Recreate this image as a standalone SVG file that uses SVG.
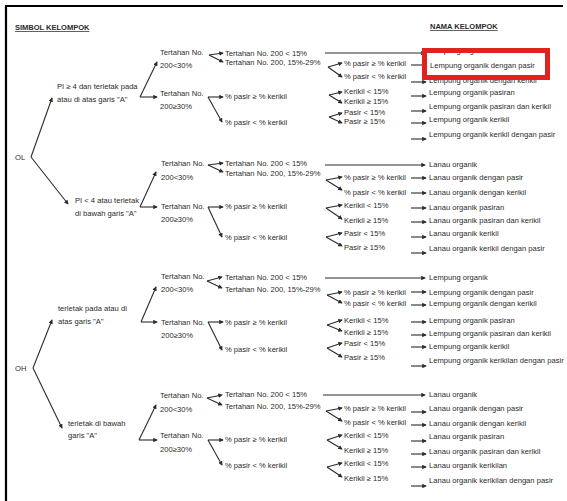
<svg xmlns="http://www.w3.org/2000/svg" width="567" height="501" viewBox="0 0 567 501">
<defs>
<marker id="ah" viewBox="0 0 6 6" refX="5" refY="3" markerWidth="4.5" markerHeight="4.5" markerUnits="userSpaceOnUse" orient="auto">
<path d="M0,0 L6,3 L0,6 z" fill="#2b2b2b"/>
</marker>
<style>
.t{font-family:"Liberation Sans",Arial,sans-serif;font-size:7.6px;fill:#2b2b2b}
.h{font-family:"Liberation Sans",Arial,sans-serif;font-size:7.5px;font-weight:bold;fill:#2b2b2b;text-decoration:underline}
.c line,.c path{stroke:#2b2b2b;stroke-width:1.1;fill:none;marker-end:url(#ah)}
</style>
</defs>
<rect width="567" height="501" fill="#ffffff"/>
<g id="frame" stroke="#000" stroke-width="2.2">
<line x1="5" y1="6" x2="563" y2="6"/>
<line x1="6" y1="5" x2="6" y2="501"/>
</g>
<g id="titles">
<text class="h" x="15" y="30">SIMBOL KELOMPOK</text>
<text class="h" x="430" y="29">NAMA KELOMPOK</text>
</g>

<g class="c" id="connectors">
<line x1="31" y1="157" x2="52" y2="98"/>
<line x1="31" y1="157" x2="68" y2="204"/>
<line x1="33" y1="368" x2="52" y2="320"/>
<line x1="33" y1="368" x2="62" y2="428"/>
<line x1="140" y1="97" x2="157" y2="62"/>
<line x1="140" y1="97" x2="157" y2="97"/>
<line x1="209" y1="55" x2="223" y2="53"/>
<line x1="209" y1="55" x2="223" y2="62"/>
<line x1="208" y1="97" x2="223" y2="97"/>
<line x1="208" y1="97" x2="222" y2="122"/>
<line x1="325" y1="53" x2="425" y2="53"/>
<line x1="328" y1="67" x2="342" y2="63"/>
<line x1="328" y1="67" x2="342" y2="77"/>
<line x1="329" y1="95" x2="342" y2="92"/>
<line x1="329" y1="95" x2="342" y2="103"/>
<line x1="329" y1="117" x2="342" y2="113"/>
<line x1="329" y1="117" x2="342" y2="123"/>
<line x1="411" y1="65" x2="426" y2="65"/>
<line x1="411" y1="82" x2="426" y2="82"/>
<line x1="411" y1="96" x2="426" y2="96"/>
<line x1="411" y1="111" x2="426" y2="111"/>
<line x1="411" y1="123" x2="426" y2="123"/>
<line x1="411" y1="139" x2="426" y2="139"/>
<line x1="140" y1="207" x2="156" y2="172"/>
<line x1="140" y1="207" x2="157" y2="207"/>
<line x1="208" y1="165" x2="223" y2="163"/>
<line x1="208" y1="165" x2="223" y2="172"/>
<line x1="208" y1="207" x2="223" y2="207"/>
<line x1="208" y1="207" x2="222" y2="237"/>
<line x1="325" y1="165" x2="425" y2="165"/>
<line x1="326" y1="180" x2="342" y2="177"/>
<line x1="326" y1="180" x2="342" y2="190"/>
<line x1="326" y1="208" x2="342" y2="205"/>
<line x1="326" y1="208" x2="342" y2="219"/>
<line x1="326" y1="237" x2="342" y2="233"/>
<line x1="326" y1="237" x2="342" y2="246"/>
<line x1="411" y1="178" x2="426" y2="178"/>
<line x1="411" y1="193" x2="426" y2="193"/>
<line x1="411" y1="208" x2="426" y2="208"/>
<line x1="411" y1="222" x2="426" y2="222"/>
<line x1="411" y1="237" x2="426" y2="237"/>
<line x1="411" y1="253" x2="426" y2="253"/>
<line x1="141" y1="322" x2="156" y2="287"/>
<line x1="141" y1="322" x2="157" y2="322"/>
<line x1="207" y1="281" x2="222" y2="277"/>
<line x1="207" y1="281" x2="222" y2="288"/>
<line x1="208" y1="322" x2="223" y2="322"/>
<line x1="208" y1="322" x2="222" y2="350"/>
<line x1="325" y1="278" x2="425" y2="278"/>
<line x1="327" y1="295" x2="342" y2="292"/>
<line x1="327" y1="295" x2="342" y2="303"/>
<line x1="327" y1="325" x2="342" y2="320"/>
<line x1="327" y1="325" x2="342" y2="331"/>
<line x1="327" y1="348" x2="342" y2="343"/>
<line x1="327" y1="348" x2="342" y2="357"/>
<line x1="411" y1="292" x2="426" y2="292"/>
<line x1="411" y1="305" x2="426" y2="305"/>
<line x1="411" y1="322" x2="426" y2="322"/>
<line x1="411" y1="335" x2="426" y2="335"/>
<line x1="411" y1="347" x2="426" y2="347"/>
<line x1="411" y1="366" x2="426" y2="366"/>
<line x1="139" y1="440" x2="156" y2="405"/>
<line x1="139" y1="440" x2="157" y2="440"/>
<line x1="207" y1="398" x2="222" y2="395"/>
<line x1="207" y1="398" x2="222" y2="405"/>
<line x1="208" y1="440" x2="223" y2="440"/>
<line x1="208" y1="440" x2="222" y2="465"/>
<line x1="323" y1="395" x2="425" y2="395"/>
<line x1="326" y1="411" x2="342" y2="408"/>
<line x1="326" y1="411" x2="342" y2="421"/>
<line x1="327" y1="440" x2="342" y2="435"/>
<line x1="327" y1="440" x2="342" y2="449"/>
<line x1="327" y1="467" x2="342" y2="463"/>
<line x1="327" y1="467" x2="342" y2="477"/>
<line x1="411" y1="412" x2="426" y2="412"/>
<line x1="411" y1="425" x2="426" y2="425"/>
<line x1="411" y1="441" x2="426" y2="441"/>
<line x1="411" y1="454" x2="426" y2="454"/>
<line x1="411" y1="467" x2="426" y2="467"/>
<line x1="411" y1="486" x2="426" y2="486"/>
</g>

<g id="node-OL"><text class="t" x="15" y="160">OL</text></g>
<g id="node-OH"><text class="t" x="15" y="371">OH</text></g>

<g id="node-s1-cond"><text class="t" x="57" y="89">PI ≥ 4 dan terletak pada</text><text class="t" x="57" y="102">atau di atas garis "A"</text></g>
<g id="node-s1-a"><text class="t" x="160" y="55">Tertahan No.</text><text class="t" x="160" y="68">200&lt;30%</text></g>
<g id="node-s1-b"><text class="t" x="160" y="96">Tertahan No.</text><text class="t" x="160" y="109">200≥30%</text></g>
<g id="node-s1-a1"><text class="t" x="225" y="56">Tertahan No. 200 &lt; 15%</text></g>
<g id="node-s1-a2"><text class="t" x="225" y="65">Tertahan No. 200, 15%-29%</text></g>
<g id="node-s1-b1"><text class="t" x="225" y="99">% pasir ≥ % kerikil</text></g>
<g id="node-s1-b2"><text class="t" x="225" y="125">% pasir &lt; % kerikil</text></g>
<g id="node-s1-c1"><text class="t" x="344" y="66">% pasir ≥ % kerikil</text></g>
<g id="node-s1-c2"><text class="t" x="344" y="79">% pasir &lt; % kerikil</text></g>
<g id="node-s1-c3"><text class="t" x="344" y="94">Kerikil &lt; 15%</text></g>
<g id="node-s1-c4"><text class="t" x="344" y="104">Kerikil ≥ 15%</text></g>
<g id="node-s1-c5"><text class="t" x="344" y="115">Pasir &lt; 15%</text></g>
<g id="node-s1-c6"><text class="t" x="344" y="124">Pasir ≥ 15%</text></g>
<g id="node-s1-r1"><text class="t" x="429" y="53">Lempung organik</text></g>
<g id="node-s1-r2"><text class="t" x="430" y="68">Lempung organik dengan pasir</text></g>
<g id="node-s1-r3"><text class="t" x="429" y="82.5">Lempung organik dengan kerikil</text></g>
<g id="node-s1-r4"><text class="t" x="429" y="95">Lempung organik pasiran</text></g>
<g id="node-s1-r5"><text class="t" x="429" y="109">Lempung organik pasiran dan kerikil</text></g>
<g id="node-s1-r6"><text class="t" x="429" y="122">Lempung organik kerikil</text></g>
<g id="node-s1-r7"><text class="t" x="429" y="137">Lempung organik kerikil dengan pasir</text></g>

<g id="node-s2-cond"><text class="t" x="75" y="203">PI &lt; 4 atau terletak</text><text class="t" x="75" y="216">di bawah garis "A"</text></g>
<g id="node-s2-a"><text class="t" x="161" y="166">Tertahan No.</text><text class="t" x="161" y="180">200&lt;30%</text></g>
<g id="node-s2-b"><text class="t" x="161" y="209">Tertahan No.</text><text class="t" x="161" y="222">200≥30%</text></g>
<g id="node-s2-a1"><text class="t" x="225" y="166">Tertahan No. 200 &lt; 15%</text></g>
<g id="node-s2-a2"><text class="t" x="225" y="176">Tertahan No. 200, 15%-29%</text></g>
<g id="node-s2-b1"><text class="t" x="225" y="209">% pasir ≥ % kerikil</text></g>
<g id="node-s2-b2"><text class="t" x="225" y="240">% pasir &lt; % kerikil</text></g>
<g id="node-s2-c1"><text class="t" x="344" y="180">% pasir ≥ % kerikil</text></g>
<g id="node-s2-c2"><text class="t" x="344" y="195">% pasir &lt; % kerikil</text></g>
<g id="node-s2-c3"><text class="t" x="344" y="208">Kerikil &lt; 15%</text></g>
<g id="node-s2-c4"><text class="t" x="344" y="223">Kerikil ≥ 15%</text></g>
<g id="node-s2-c5"><text class="t" x="344" y="236">Pasir &lt; 15%</text></g>
<g id="node-s2-c6"><text class="t" x="344" y="250">Pasir ≥ 15%</text></g>
<g id="node-s2-r1"><text class="t" x="429" y="167">Lanau organik</text></g>
<g id="node-s2-r2"><text class="t" x="429" y="180">Lanau organik dengan pasir</text></g>
<g id="node-s2-r3"><text class="t" x="429" y="195">Lanau organik dengan kerikil</text></g>
<g id="node-s2-r4"><text class="t" x="429" y="210">Lanau organik pasiran</text></g>
<g id="node-s2-r5"><text class="t" x="429" y="223">Lanau organik pasiran dan kerikil</text></g>
<g id="node-s2-r6"><text class="t" x="429" y="236">Lanau organik kerikil</text></g>
<g id="node-s2-r7"><text class="t" x="429" y="251">Lanau organik kerikil dengan pasir</text></g>

<g id="node-s3-cond"><text class="t" x="58" y="311">terletak pada atau di</text><text class="t" x="58" y="324">atas garis "A"</text></g>
<g id="node-s3-a"><text class="t" x="161" y="279">Tertahan No.</text><text class="t" x="161" y="292">200&lt;30%</text></g>
<g id="node-s3-b"><text class="t" x="161" y="325">Tertahan No.</text><text class="t" x="161" y="338">200≥30%</text></g>
<g id="node-s3-a1"><text class="t" x="225" y="280">Tertahan No. 200 &lt; 15%</text></g>
<g id="node-s3-a2"><text class="t" x="225" y="292">Tertahan No. 200, 15%-29%</text></g>
<g id="node-s3-b1"><text class="t" x="225" y="325">% pasir ≥ % kerikil</text></g>
<g id="node-s3-b2"><text class="t" x="225" y="352">% pasir &lt; % kerikil</text></g>
<g id="node-s3-c1"><text class="t" x="344" y="295">% pasir ≥ % kerikil</text></g>
<g id="node-s3-c2"><text class="t" x="344" y="306">% pasir &lt; % kerikil</text></g>
<g id="node-s3-c3"><text class="t" x="344" y="323">Kerikil &lt; 15%</text></g>
<g id="node-s3-c4"><text class="t" x="344" y="335">Kerikil ≥ 15%</text></g>
<g id="node-s3-c5"><text class="t" x="344" y="346">Pasir &lt; 15%</text></g>
<g id="node-s3-c6"><text class="t" x="344" y="360">Pasir ≥ 15%</text></g>
<g id="node-s3-r1"><text class="t" x="429" y="280">Lempung organik</text></g>
<g id="node-s3-r2"><text class="t" x="429" y="295">Lempung organik dengan pasir</text></g>
<g id="node-s3-r3"><text class="t" x="429" y="306">Lempung organik dengan kerikil</text></g>
<g id="node-s3-r4"><text class="t" x="429" y="323">Lempung organik pasiran</text></g>
<g id="node-s3-r5"><text class="t" x="429" y="336">Lempung organik pasiran dan kerikil</text></g>
<g id="node-s3-r6"><text class="t" x="429" y="349">Lempung organik kerikil</text></g>
<g id="node-s3-r7"><text class="t" x="429" y="363">Lempung organik kerikilan dengan pasir</text></g>

<g id="node-s4-cond"><text class="t" x="68" y="426">terletak di bawah</text><text class="t" x="68" y="438">garis "A"</text></g>
<g id="node-s4-a"><text class="t" x="160" y="398">Tertahan No.</text><text class="t" x="160" y="412">200&lt;30%</text></g>
<g id="node-s4-b"><text class="t" x="160" y="438">Tertahan No.</text><text class="t" x="160" y="452">200≥30%</text></g>
<g id="node-s4-a1"><text class="t" x="225" y="397">Tertahan No. 200 &lt; 15%</text></g>
<g id="node-s4-a2"><text class="t" x="225" y="409">Tertahan No. 200, 15%-29%</text></g>
<g id="node-s4-b1"><text class="t" x="225" y="442">% pasir ≥ % kerikil</text></g>
<g id="node-s4-b2"><text class="t" x="225" y="468">% pasir &lt; % kerikil</text></g>
<g id="node-s4-c1"><text class="t" x="344" y="411">% pasir ≥ % kerikil</text></g>
<g id="node-s4-c2"><text class="t" x="344" y="425">% pasir &lt; % kerikil</text></g>
<g id="node-s4-c3"><text class="t" x="344" y="438">Kerikil &lt; 15%</text></g>
<g id="node-s4-c4"><text class="t" x="344" y="453">Kerikil ≥ 15%</text></g>
<g id="node-s4-c5"><text class="t" x="344" y="466">Kerikil &lt; 15%</text></g>
<g id="node-s4-c6"><text class="t" x="344" y="481">Kerikil ≥ 15%</text></g>
<g id="node-s4-r1"><text class="t" x="429" y="397">Lanau organik</text></g>
<g id="node-s4-r2"><text class="t" x="429" y="411">Lanau organik dengan pasir</text></g>
<g id="node-s4-r3"><text class="t" x="429" y="426">Lanau organik dengan kerikil</text></g>
<g id="node-s4-r4"><text class="t" x="429" y="439">Lanau organik pasiran</text></g>
<g id="node-s4-r5"><text class="t" x="429" y="454">Lanau organik pasiran dan kerikil</text></g>
<g id="node-s4-r6"><text class="t" x="429" y="468">Lanau organik kerikilan</text></g>
<g id="node-s4-r7"><text class="t" x="429" y="483">Lanau organik kerikilan dengan pasir</text></g>

<g id="highlight">
<rect x="424.5" y="50.5" width="123" height="27" fill="none" stroke="#e3211f" stroke-width="5"/>
</g>
</svg>
